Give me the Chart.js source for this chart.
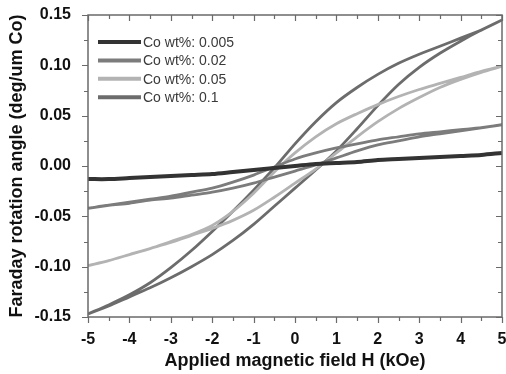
<!DOCTYPE html>
<html>
<head>
<meta charset="utf-8">
<script src="https://cdn.jsdelivr.net/npm/chart.js@4/dist/chart.umd.min.js"></script>
<style>
  html, body { margin: 0; padding: 0; background: #fff; }
  #wrap { width: 506px; height: 374px; }
</style>
</head>
<body>
<div id="wrap"><canvas id="chart"></canvas></div>
<script>
// applied field grid (kOe)
const field = [-5, -4.5, -4, -3.5, -3, -2.5, -2, -1.5, -1, -0.5, 0, 0.5, 1, 1.5, 2, 2.5, 3, 3.5, 4, 4.5, 5]

const labels = ['Co wt%: 0.005', 'Co wt%: 0.02', 'Co wt%: 0.05', 'Co wt%: 0.1']
const colors = ['#333333', '#7c7c7c', '#b3b3b3', '#6c6c6c']
const widths = [4, 2.8, 2.8, 2.8]

// Faraday rotation (deg/um Co), sweep up (-5 -> 5) and sweep down, read on the field grid
const co005 = [-0.013, -0.013, -0.012, -0.011, -0.010, -0.009, -0.008, -0.006, -0.004, -0.002, 0.000, 0.002, 0.003, 0.004, 0.006, 0.007, 0.008, 0.009, 0.010, 0.011, 0.013]

const co02Up = [-0.042, -0.039, -0.037, -0.034, -0.032, -0.029, -0.026, -0.022, -0.017, -0.011, -0.005, 0.001, 0.008, 0.015, 0.021, 0.025, 0.029, 0.032, 0.035, 0.038, 0.041]
const co02Down = [-0.042, -0.039, -0.036, -0.033, -0.030, -0.026, -0.022, -0.016, -0.009, -0.001, 0.007, 0.013, 0.018, 0.022, 0.026, 0.029, 0.032, 0.034, 0.036, 0.038, 0.041]

const co05Up = [-0.099, -0.094, -0.088, -0.082, -0.076, -0.069, -0.062, -0.054, -0.044, -0.031, -0.017, -0.003, 0.013, 0.029, 0.044, 0.057, 0.068, 0.078, 0.086, 0.093, 0.099]
const co05Down = [-0.099, -0.094, -0.088, -0.082, -0.075, -0.068, -0.059, -0.045, -0.027, -0.006, 0.013, 0.029, 0.042, 0.052, 0.061, 0.069, 0.076, 0.082, 0.088, 0.094, 0.099]

const co1Up = [-0.147, -0.139, -0.130, -0.121, -0.111, -0.100, -0.088, -0.074, -0.058, -0.040, -0.022, -0.004, 0.015, 0.037, 0.060, 0.081, 0.098, 0.112, 0.124, 0.135, 0.145]
const co1Down = [-0.147, -0.138, -0.128, -0.116, -0.101, -0.084, -0.065, -0.045, -0.024, -0.002, 0.022, 0.044, 0.063, 0.078, 0.091, 0.102, 0.111, 0.119, 0.127, 0.135, 0.145]

const xTicks = [-5, -4, -3, -2, -1, 0, 1, 2, 3, 4, 5]
const yTicks = [-0.15, -0.10, -0.05, 0.00, 0.05, 0.10, 0.15]

// build a closed loop: sweep up then back down
const loop = (up, down) => {
  const pts = field.map((h, i) => ({ x: h, y: up[i] }))
  if (down) {
    for (let i = field.length - 2; i >= 0; i--) pts.push({ x: field[i], y: down[i] })
  }
  return pts
}

const series = [loop(co005), loop(co02Up, co02Down), loop(co05Up, co05Down), loop(co1Up, co1Down)]

const FONT = 'Arial, "Liberation Sans", sans-serif'

// box frame + minor ticks (outside on bottom/left, inside on top/right)
const frame = {
  id: 'frame',
  afterDraw(chart) {
    const { ctx, chartArea: a, scales: { x, y } } = chart
    ctx.save()
    ctx.strokeStyle = '#6a6a6a'
    ctx.lineWidth = 1.5
    ctx.strokeRect(a.left, a.top, a.right - a.left, a.bottom - a.top)
    ctx.lineWidth = 1.2
    ctx.beginPath()
    for (let k = 0; k <= 20; k++) {
      const v = -5 + k * 0.5
      const px = Math.round(x.getPixelForValue(v)) + 0.5
      const len = k % 2 === 0 ? 6 : 4
      ctx.moveTo(px, a.bottom); ctx.lineTo(px, a.bottom + len)
      ctx.moveTo(px, a.top); ctx.lineTo(px, a.top + len)
    }
    for (let k = 0; k <= 12; k++) {
      const v = -0.15 + k * 0.025
      const py = Math.round(y.getPixelForValue(v)) + 0.5
      const len = k % 2 === 0 ? 6 : 4
      ctx.moveTo(a.left, py); ctx.lineTo(a.left - len, py)
      ctx.moveTo(a.right, py); ctx.lineTo(a.right - len, py)
    }
    ctx.stroke()
    ctx.restore()
  }
}

// legend drawn inside the plot, upper left
const insideLegend = {
  id: 'insideLegend',
  afterDraw(chart) {
    const { ctx, chartArea: a } = chart
    ctx.save()
    ctx.font = '14px ' + FONT
    ctx.textBaseline = 'middle'
    chart.data.datasets.forEach((ds, i) => {
      const yy = a.top + 27 + i * 18.4
      ctx.strokeStyle = ds.borderColor
      ctx.lineWidth = 4
      ctx.beginPath()
      ctx.moveTo(a.left + 10, yy)
      ctx.lineTo(a.left + 53, yy)
      ctx.stroke()
      ctx.fillStyle = '#3a3a3a'
      ctx.fillText(ds.label, a.left + 55, yy + 1)
    })
    ctx.restore()
  }
}

new Chart(document.getElementById('chart'), {
  type: 'scatter',
  data: {
    datasets: series.map((pts, i) => ({
      label: labels[i],
      data: pts,
      showLine: true,
      borderColor: colors[i],
      backgroundColor: colors[i],
      borderWidth: widths[i],
      pointRadius: 0,
      tension: 0.3,
    }))
  },
  options: {
    responsive: true,
    maintainAspectRatio: false,
    animation: false,
    layout: { padding: { top: 15, right: 4, left: 0, bottom: 0 } },
    plugins: { legend: { display: false }, tooltip: { enabled: false } },
    scales: {
      x: {
        type: 'linear',
        min: -5,
        max: 5,
        afterFit: (s) => { s.height = 57; s.paddingLeft = 0; s.paddingRight = 0 },
        afterBuildTicks: (s) => { s.ticks = xTicks.map(v => ({ value: v })) },
        grid: { display: false },
        border: { display: false },
        ticks: {
          padding: 5,
          color: '#111',
          font: { family: FONT, size: 16, weight: 'bold' },
          callback: (v) => String(v)
        },
        title: {
          display: true,
          text: 'Applied magnetic field H (kOe)',
          color: '#111',
          font: { family: FONT, size: 18, weight: 'bold' },
          padding: { top: 0, bottom: 2 }
        }
      },
      y: {
        type: 'linear',
        min: -0.15,
        max: 0.15,
        afterFit: (s) => { s.width = 88; s.paddingTop = 0; s.paddingBottom = 0 },
        afterBuildTicks: (s) => { s.ticks = yTicks.map(v => ({ value: v })) },
        grid: { display: false },
        border: { display: false },
        ticks: {
          padding: 9,
          color: '#111',
          font: { family: FONT, size: 16, weight: 'bold' },
          callback: (v) => v.toFixed(2)
        },
        title: {
          display: true,
          text: 'Faraday rotation angle (deg/um Co)',
          color: '#111',
          font: { family: FONT, size: 18, weight: 'bold' },
          padding: { top: 6, bottom: 0 }
        }
      }
    }
  },
  plugins: [frame, insideLegend]
})
</script>
</body>
</html>
